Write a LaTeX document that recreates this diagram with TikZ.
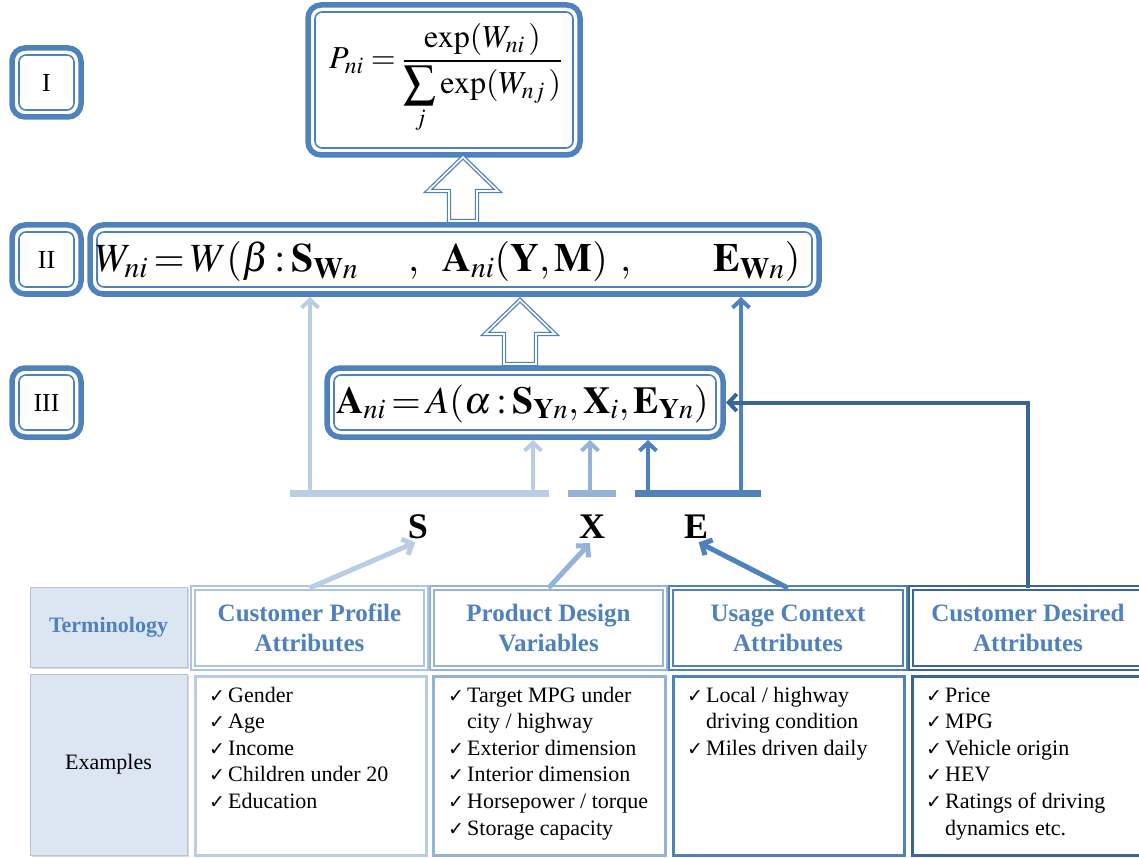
\documentclass[tikz,border=0pt]{standalone}
\usepackage{mathptmx}
\usepackage{fontspec}
\setmainfont{Liberation Serif}
\newfontfamily\chkfont{DejaVu Sans}
\usetikzlibrary{arrows.meta,shadows,calc}
\definecolor{cA}{HTML}{B9CDE5}
\definecolor{cB}{HTML}{95B3D7}
\definecolor{cC}{HTML}{4F81BD}
\definecolor{cD}{HTML}{3A6598}
\definecolor{cellfill}{HTML}{DCE6F2}
\definecolor{hdtext}{HTML}{4F81BD}
\newcommand\ck{\makebox[19pt][l]{\chkfont\fontsize{19}{20}\selectfont ✓}}
\newcommand\nock{\hspace*{19pt}}
\newcommand\mkframe[5]{%
  \node[frame, minimum width={#4-#2}, minimum height={#5-#3}] (#1) at (#2,#3) {};
  \draw[innerframe] ([shift={(7,7)}]#1.north west) rectangle ([shift={(-7,-7)}]#1.south east);
}
\begin{document}
\begin{tikzpicture}[x=1pt,y=-1pt,
  frame/.style={draw=cC, line width=5.5pt, rounded corners=13pt, inner sep=0pt, outer sep=0pt, anchor=north west},
  innerframe/.style={draw=cC, line width=1.6pt, rounded corners=7pt},
  blockarrow/.style={draw=cC, line width=1.3pt, double=white, double distance=1.6pt, fill=white, line join=miter},
  lbl/.style={font=\fontsize{26}{30}\selectfont, inner sep=0pt},
  mathtxt/.style={anchor=base west, inner sep=0pt, execute at begin node={\thickmuskip=2.5mu\medmuskip=2mu}},
  fractxt/.style={anchor=base west, inner sep=0pt},
  bar/.style={line width=7pt},
  link/.style={line width=4pt, shorten >=3pt, -{Straight Barb[length=8pt,width=17pt]}},
  big/.style={font=\fontsize{36}{40}\selectfont\bfseries, inner sep=2pt},
  cellshadow/.style={drop shadow={shadow xshift=2pt, shadow yshift=-2pt, opacity=0.3}},
  lcell/.style={fill=cellfill, draw=cellfill!85!black, line width=0.6pt, anchor=north west, inner sep=0pt, outer sep=0pt, cellshadow, align=center},
  hcell/.style={fill=white, line width=1.3pt, double=white, double distance=2.5pt, anchor=north west, inner sep=0pt, outer sep=0pt, cellshadow, align=center, font=\fontsize{25}{30}\selectfont\bfseries, text=hdtext},
  ecell/.style={fill=white, line width=3pt, anchor=north west, inner sep=0pt, outer sep=0pt, cellshadow},
  itm/.style={font=\fontsize{22}{27}\selectfont, anchor=base west, inner sep=0pt}
]
\useasboundingbox (0,0) rectangle (1139,858);
\clip (0,0) rectangle (1139,858);

% ---- frames
\mkframe{I}{12}{48}{81}{117}
\mkframe{P}{308}{5}{580}{155}
\mkframe{II}{12}{225}{81}{294}
\mkframe{W}{90}{225}{819}{294}
\mkframe{III}{12}{368}{81}{437}
\mkframe{A}{327}{368}{723}{437}

\node[lbl] (tI) at (I.center) {I};
\node[lbl] (tII) at (II.center) {II};
\node[lbl] (tIII) at (III.center) {III};

% ---- formulas
\node[fractxt] (fP) at (329,69) {\fontsize{32}{38}\selectfont $\displaystyle P_{ni}=\frac{\exp(W_{ni}\,)}{\displaystyle\sum_{j}\exp(W_{nj}\,)}$};
\node[mathtxt] (fW1) at (95,272) {\fontsize{40}{48}\selectfont $W_{ni}=W(\beta:\mathbf{S}_{\mathbf{W}n}$};
\node[mathtxt] (fW2) at (408,272) {\fontsize{40}{48}\selectfont $,$};
\node[mathtxt] (fW3) at (442,272) {\fontsize{40}{48}\selectfont $\mathbf{A}_{ni}(\mathbf{Y},\mathbf{M})$};
\node[mathtxt] (fW4) at (620,272) {\fontsize{40}{48}\selectfont $,$};
\node[mathtxt] (fW5) at (713,272) {\fontsize{40}{48}\selectfont $\mathbf{E}_{\mathbf{W}n})$};
\node[mathtxt] (fA) at (336,413) {\fontsize{38}{46}\selectfont $\mathbf{A}_{ni}=A(\alpha:\mathbf{S}_{\mathbf{Y}n},\mathbf{X}_i,\mathbf{E}_{\mathbf{Y}n})$};

% ---- block arrows
\coordinate (t1) at (463,157);
\draw[blockarrow] (t1) -- ++(35,34) -- ++(-21,0) -- ++(0,30) -- ++(-28,0) -- ++(0,-30) -- ++(-21,0) -- cycle;
\coordinate (t2) at (520,300);
\draw[blockarrow] (t2) -- ++(35,34) -- ++(-19,0) -- ++(0,30) -- ++(-32,0) -- ++(0,-30) -- ++(-19,0) -- cycle;

% ---- bars
\coordinate (sL) at (290,493); \coordinate (sR) at (549,493);
\coordinate (xL) at (568,493); \coordinate (xR) at (616,493);
\coordinate (eL) at (635,493); \coordinate (eR) at (761,493);
\draw[bar,cA] (sL) -- (sR);
\draw[bar,cB] (xL) -- (xR);
\draw[bar,cC] (eL) -- (eR);

% ---- vertical connectors
\coordinate (s1) at (310,490); \coordinate (s2) at (533,490);
\coordinate (x1) at (590,490);
\coordinate (e1) at (648,490); \coordinate (e2) at (741,490);
\draw[link,cA] (s1) -- (s1 |- W.south);
\draw[link,cA] (s2) -- (s2 |- A.south);
\draw[link,cB] (x1) -- (x1 |- A.south);
\draw[link,cC] (e1) -- (e1 |- A.south);
\draw[link,cC] (e2) -- (e2 |- W.south);

% ---- S X E labels
\node[big] (S) at (418,527) {S};
\node[big] (X) at (592,527) {X};
\node[big] (E) at (696,527) {E};

% ---- table
\node[lcell, minimum width=157, minimum height=80, font=\fontsize{22}{27}\selectfont\bfseries, text=hdtext] (term) at (30,587) {Terminology};
\node[lcell, minimum width=157, minimum height=181, font=\fontsize{22}{27}\selectfont] (exl) at (30,674) {Examples};

\node[hcell, draw=cA!70!cB, minimum width=233, minimum height=80] (h1) at (193,588) {Customer Profile\\Attributes};
\node[hcell, draw=cB, minimum width=233, minimum height=80] (h2) at (432,588) {Product Design\\Variables};
\node[hcell, draw=cC, minimum width=234, minimum height=80] (h3) at (671,588) {Usage Context\\Attributes};
\node[hcell, draw=cD, minimum width=234, minimum height=80] (h4) at (911,588) {Customer Desired\\Attributes};

\node[ecell, draw=cA, minimum width=231, minimum height=179] (e1c) at (195,676) {};
\node[ecell, draw=cB, minimum width=232, minimum height=179] (e2c) at (433,676) {};
\node[ecell, draw=cC, minimum width=231, minimum height=179] (e3c) at (673,676) {};
\node[ecell, draw=cD, minimum width=234, minimum height=179] (e4c) at (912,676) {};

\foreach \t [count=\i] in {\ck Gender, \ck Age, \ck Income, \ck Children under 20, \ck Education}
  \node[itm] (ia\i) at (209,{702+(\i-1)*26.6}) {\t};
\foreach \t [count=\i] in {\ck Target MPG under, \nock city / highway, \ck Exterior dimension, \ck Interior dimension, \ck Horsepower / torque, \ck Storage capacity}
  \node[itm] (ib\i) at (448,{702+(\i-1)*26.6}) {\t};
\foreach \t [count=\i] in {\ck Local / highway, \nock driving condition, \ck Miles driven daily}
  \node[itm] (ic\i) at (687,{702+(\i-1)*26.6}) {\t};
\foreach \t [count=\i] in {\ck Price, \ck MPG, \ck Vehicle origin, \ck HEV, \ck Ratings of driving, \nock dynamics etc.}
  \node[itm] (id\i) at (926,{702+(\i-1)*26.6}) {\t};

% ---- arrows from table to labels
\draw[link,cA,line width=5pt] (h1.north) -- (S.south);
\draw[link,cB,line width=5pt] (h2.north) -- (X.south);
\draw[link,cC,line width=5pt] (h3.north) -- (E.south);
\draw[link,cD] (h4.north) -- (h4.north |- A.east) -- (A.east);
\end{tikzpicture}
\end{document}
